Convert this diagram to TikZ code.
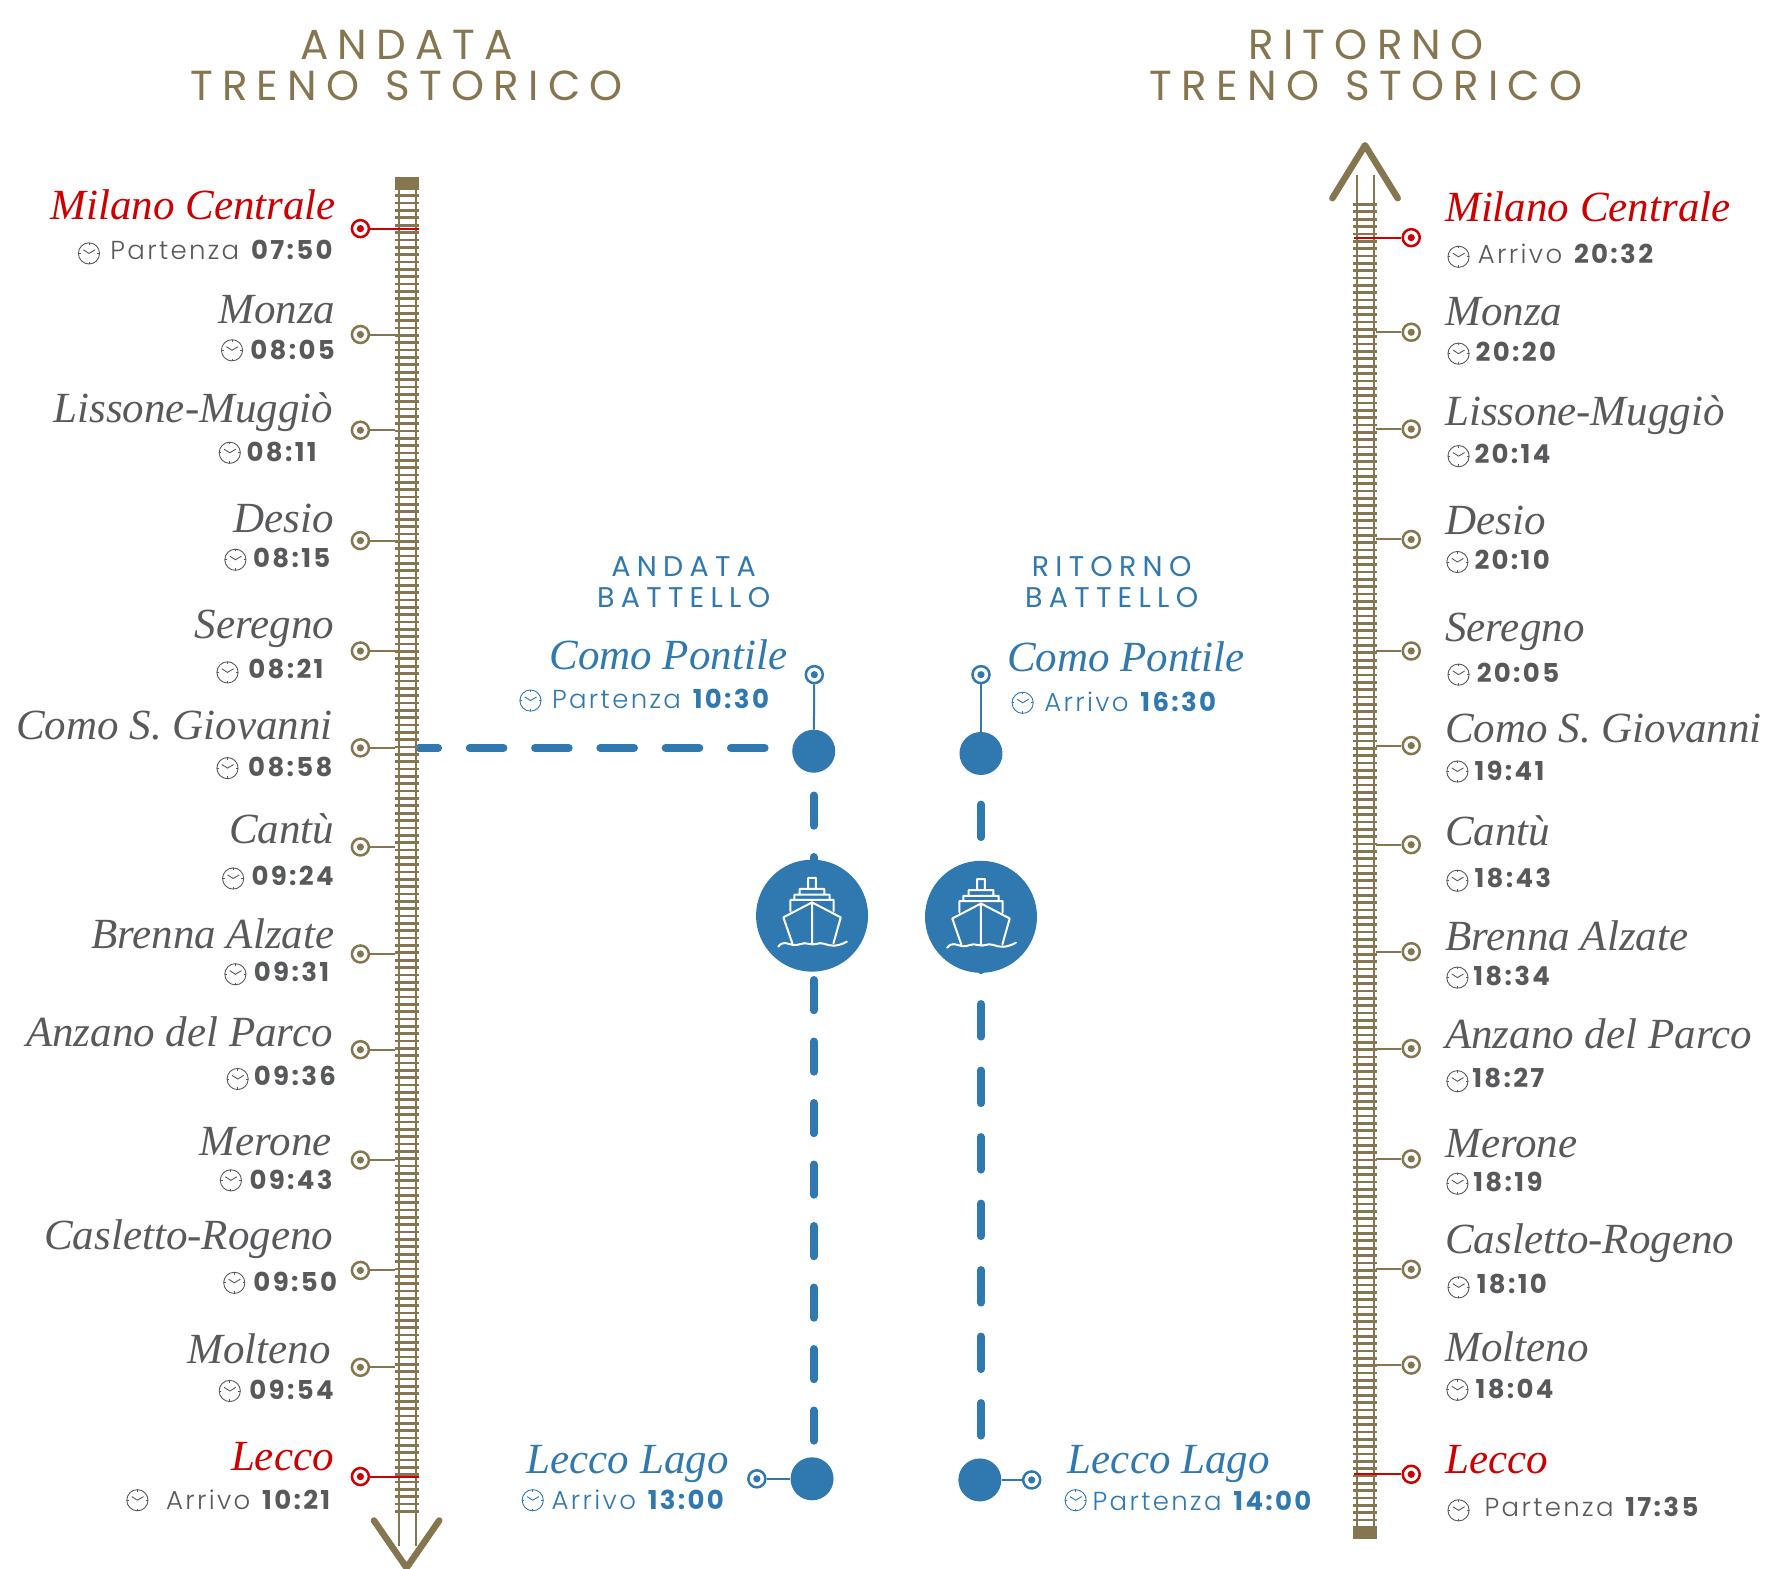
\documentclass[tikz,border=0pt]{standalone}
\usepackage{fontspec}
\setmainfont{Liberation Serif}
\newfontfamily\poplabel[LetterSpace=9,BoldFont={Poppins Bold}]{Poppins Light}
\newfontfamily\popwide[LetterSpace=22]{Poppins}
\usetikzlibrary{backgrounds,calc}
\definecolor{trackgold}{HTML}{85764F}
\definecolor{trackgoldtext}{HTML}{58595B}
\definecolor{stopred}{HTML}{CC0000}
\definecolor{stopredtext}{HTML}{CC0000}
\definecolor{labelgrey}{HTML}{58595B}
\definecolor{boatblue}{HTML}{2F78B0}
\tikzset{
	stationname/.style={
		font=\fontsize{43}{43}\selectfont\itshape, inner sep=0pt
	},
	%
	hourlabel/.style={
		font=\fontsize{26}{26}\poplabel, inner sep=0pt, text=labelgrey, yshift=-6.5pt
	},
	%
	bigtitle/.style={
		font=\fontsize{42}{40.5}\popwide, align=center, text=trackgold, inner sep=0pt
	},
	%
	boattitle/.style={
		font=\fontsize{28.5}{31.5}\popwide, align=center, text=boatblue, inner sep=0pt
	},
	%
	stopmark/.style={
		circle, draw=#1, fill=white, line width=2.5pt, minimum size=17pt, inner sep=0pt,
		path picture={\fill[#1] (path picture bounding box.center) circle (3.6pt);}
	},
	%
	stoplink/.style={
		draw=#1, line width=2pt
	},
	%
	railpair/.style={
		draw=trackgold, line width=2pt, double=white, double distance=15pt
	},
	%
	railties/.style={
		draw=trackgold, line width=23.6pt, dash pattern=on 2.7pt off 4.65pt
	},
	%
	railcap/.style={
		rectangle, fill=trackgold, minimum width=23.6pt, minimum height=10pt, inner sep=0pt
	},
	%
	railarrow/.style={
		draw=trackgold, line width=6.5pt, line cap=round, line join=round
	},
	%
	boatdot/.style={
		circle, fill=boatblue, minimum size=43pt, inner sep=0pt
	},
	%
	shipdisc/.style={
		circle, fill=boatblue, minimum size=112pt, inner sep=0pt
	},
	%
	boatdash/.style={
		draw=boatblue, line width=7.8pt, line cap=round
	},
	clockface/.pic={
		\draw[line width=0.9pt] (0,0) circle (9.4);
		\draw[line width=0.9pt] (-5,-3.2) -- (0,0) -- (5.4,-3.2);
		\foreach \a in {0,90,180,270} {\draw[line width=0.9pt] (\a:7.4) -- (\a:9.4);}
	},
	shipicon/.pic={
		\draw[white, line width=2pt, line join=round, line cap=round]
			(-19.2,-4) -- (-19.2,-14) -- (19.2,-14) -- (19.2,-4)
			(-15.7,-14) -- (-15.7,-18.6) -- (15.7,-18.6) -- (15.7,-14)
			(-11,-18.6) -- (-11,-23.7) -- (11,-23.7) -- (11,-18.6)
			(-3.5,-23.7) -- (-3.5,-33.5) -- (3.5,-33.5) -- (3.5,-23.7)
			(-17.5,24.5) -- (-25.5,1.5) -- (0,-11.8) -- (25.5,1.5) -- (19,24.5)
			(0,-11.8) -- (0,25)
			(-30,27.5) .. controls (-26,22) and (-22,25) .. (-17,26)
			.. controls (-12,27) and (-8,23) .. (-3,25)
			.. controls (2,27) and (6,23) .. (11,25)
			.. controls (16,27) and (22,28) .. (31,23);
	}
}

\begin{document}
\begin{tikzpicture}[x=1.1263pt,y=-1.1263pt]
\useasboundingbox (0,0) rectangle (1568,1393);

%titles
\node (titleL)[bigtitle] at (361,58) {ANDATA\\TRENO\hspace{6pt} STORICO};
\node (titleR)[bigtitle] at (1213,58) {RITORNO\\TRENO\hspace{6pt} STORICO};
\node (boatTitleA)[boattitle] at (607,517) {ANDATA\\BATTELLO};
\node (boatTitleR)[boattitle] at (987,517) {RITORNO\\BATTELLO};

%tracks
\node (capL)[railcap] at (361.5,161.5) {};
\node (capR)[railcap] at (1212,1362) {};
\coordinate (railEndL) at (361.5,1373);
\coordinate (railEndR) at (1212,155);
\coordinate (tiesEndL) at (361.5,1343);
\coordinate (tiesEndR) at (1212,179);
\draw[railpair] (capL) -- (railEndL);
\draw[railpair] (capR) -- (railEndR);
\draw[railties] (capL) -- (tiesEndL);
\draw[railties] (capR) -- (tiesEndR);
\coordinate (armL) at (332,1350);
\coordinate (tipL) at (361,1392);
\coordinate (armLb) at (390,1350);
\coordinate (armR) at (1183,176);
\coordinate (tipR) at (1212,129);
\coordinate (armRb) at (1241,176);
\draw[railarrow] (armL) -- (tipL) -- (armLb);
\draw[railarrow] (armR) -- (tipR) -- (armRb);
\coordinate (railLtrackgold) at (351,0);
\coordinate (railLstopred) at (372,0);
\coordinate (railRtrackgold) at (1222,0);
\coordinate (railRstopred) at (1202,0);

%stations going
\foreach \i/\tone/\stn/\nx/\stop/\base/\hour/\hx/\hy/\cx/\cy in {
1/stopred/Milano Centrale/298.5/203/195/Partenza \textbf{07:50}/297.5/223/79/225,
2/trackgold/Monza/298/297/287/\textbf{08:05}/299.5/311/206/311,
3/trackgold/Lissone-Muggiò/296/382/375/\textbf{08:11}/283.5/402/204/402,
4/trackgold/Desio/296.5/480/473/\textbf{08:15}/295.5/496/209/497,
5/trackgold/Seregno/297/578/567/\textbf{08:21}/289.5/595/202/597,
6/trackgold/Como S. Giovanni/295.5/664/657/\textbf{08:58}/297.5/682/202/682,
7/trackgold/Cantù/297/752/749/\textbf{09:24}/298.5/778/207/780,
8/trackgold/Brenna Alzate/297/847/842/\textbf{09:31}/294.5/864/209/865,
9/trackgold/Anzano del Parco/295.5/932/929/\textbf{09:36}/300.5/956/211/958,
10/trackgold/Merone/295/1030/1026/\textbf{09:43}/297.5/1048/205/1048,
11/trackgold/Casletto-Rogeno/296/1128/1109/\textbf{09:50}/301.5/1139/208/1139,
12/trackgold/Molteno/294/1214/1211/\textbf{09:54}/298.5/1235/204/1235,
13/stopred/Lecco/296.5/1311/1306/Arrivo \textbf{10:21}/295.5/1332/122/1332}
{
	\node (stopL\i)[stopmark=\tone] at (320,\stop) {};
	\draw[stoplink=\tone] (stopL\i) -- (stopL\i -| railL\tone);
	\node (nameL\i)[stationname, anchor=base east, text=\tone text] at (\nx,\base) {\stn};
	\node (hourL\i)[hourlabel, anchor=mid east] at (\hx,\hy) {\hour};
	\pic (clockL\i)[color=labelgrey] at (\cx,\cy) {clockface};
}

%stations back
\foreach \i/\tone/\stn/\stop/\base/\hour/\hx/\hy/\cx/\cy in {
1/stopred/Milano Centrale/211/197/Arrivo \textbf{20:32}/1312/226/1295/228,
2/trackgold/Monza/295/289/\textbf{20:20}/1310/313/1295/314,
3/trackgold/Lissone-Muggiò/381/378/\textbf{20:14}/1309/404/1295/405,
4/trackgold/Desio/479/475/\textbf{20:10}/1309/498/1294/499,
5/trackgold/Seregno/578/570/\textbf{20:05}/1311/598/1295/599,
6/trackgold/Como S. Giovanni/662/659/\textbf{19:41}/1309/685/1294/685,
7/trackgold/Cantù/750/751/\textbf{18:43}/1309/780/1294/782,
8/trackgold/Brenna Alzate/845/844/\textbf{18:34}/1308/867/1294/868,
9/trackgold/Anzano del Parco/931/931/\textbf{18:27}/1307/958/1294/960,
10/trackgold/Merone/1029/1028/\textbf{18:19}/1308/1050/1294/1051,
11/trackgold/Casletto-Rogeno/1127/1113/\textbf{18:10}/1311/1141/1295/1143,
12/trackgold/Molteno/1212/1209/\textbf{18:04}/1310/1234/1294/1234,
13/stopred/Lecco/1309/1308/Partenza \textbf{17:35}/1318/1339/1295/1341}
{
	\node (stopR\i)[stopmark=\tone] at (1253,\stop) {};
	\draw[stoplink=\tone] (stopR\i) -- (stopR\i -| railR\tone);
	\node (nameR\i)[stationname, anchor=base west, text=\tone text] at (1283,\base) {\stn};
	\node (hourR\i)[hourlabel, anchor=mid west] at (\hx,\hy) {\hour};
	\pic (clockR\i)[color=labelgrey] at (\cx,\cy) {clockface};
}

%boat stops
\node (comoDotA)[boatdot] at (722.5,667) {};
\node (comoDotR)[boatdot] at (871,669) {};
\node (leccoDotA)[boatdot] at (721,1313) {};
\node (leccoDotR)[boatdot] at (870,1314) {};
\node (shipA)[shipdisc] at (721,813) {};
\node (shipR)[shipdisc] at (871,814) {};
\pic (shipIconA) at (shipA) {shipicon};
\pic (shipIconR) at (shipR) {shipicon};

\node (comoStopA)[stopmark=boatblue] at (723,599) {};
\node (comoStopR)[stopmark=boatblue] at (871,599) {};
\node (leccoStopA)[stopmark=boatblue] at (672,1313) {};
\node (leccoStopR)[stopmark=boatblue] at (916,1314) {};
\draw[stoplink=boatblue] (comoStopA) -- (comoDotA);
\draw[stoplink=boatblue] (comoStopR) -- (comoDotR);
\draw[stoplink=boatblue] (leccoStopA) -- (leccoDotA);
\draw[stoplink=boatblue] (leccoStopR) -- (leccoDotR);

%dashes
\coordinate (dashStart) at (372,664);
\begin{scope}[on background layer]
\draw[boatdash, dash pattern=on 33.8pt off 31.5pt, dash phase=14.6pt] (dashStart) -- (dashStart -| comoDotA.west);
\draw[boatdash, dash pattern=on 30.4pt off 31.1pt, dash phase=39pt] (comoDotA) -- (comoDotA |- leccoDotA.north);
\draw[boatdash, dash pattern=on 32.7pt off 33.8pt, dash phase=37.2pt] (comoDotR) -- (comoDotR |- leccoDotR.north);
\end{scope}

%boat labels
\node (comoNameA)[stationname, anchor=base east, text=boatblue] at (699,594) {Como Pontile};
\node (comoHourA)[hourlabel, anchor=mid east, text=boatblue] at (685,621) {Partenza \textbf{10:30}};
\pic (clockBoatA)[color=boatblue] at (471,622) {clockface};
\node (comoNameR)[stationname, anchor=base west, text=boatblue] at (894,596) {Como Pontile};
\node (comoHourR)[hourlabel, anchor=mid west, text=boatblue] at (927,624) {Arrivo \textbf{16:30}};
\pic (clockBoatR)[color=boatblue] at (908,624) {clockface};
\node (leccoNameA)[stationname, anchor=base east, text=boatblue] at (647,1308) {Lecco Lago};
\node (leccoHourA)[hourlabel, anchor=mid east, text=boatblue] at (645,1332) {Arrivo \textbf{13:00}};
\pic (clockLakeA)[color=boatblue] at (473,1332) {clockface};
\node (leccoNameR)[stationname, anchor=base west, text=boatblue] at (948,1308) {Lecco Lago};
\node (leccoHourR)[hourlabel, anchor=mid west, text=boatblue] at (970,1333) {Partenza \textbf{14:00}};
\pic (clockLakeR)[color=boatblue] at (955,1332) {clockface};
\end{tikzpicture}
\end{document}
